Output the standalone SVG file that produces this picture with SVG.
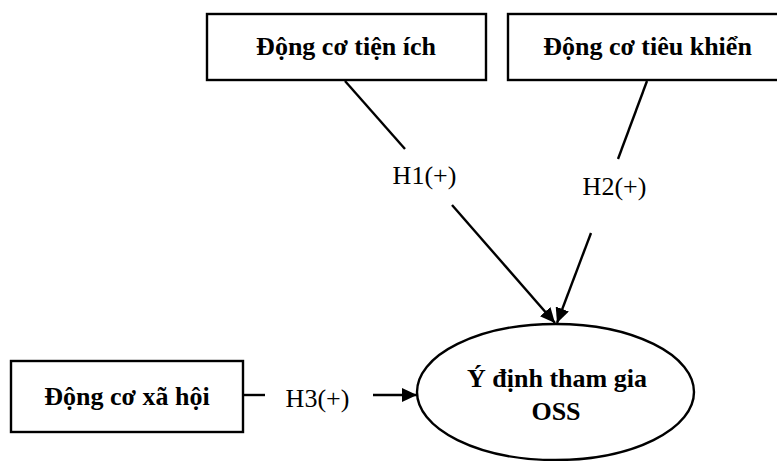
<svg xmlns="http://www.w3.org/2000/svg" width="777" height="461" viewBox="0 0 777 461">
  <defs>
    <marker id="arrow" markerUnits="userSpaceOnUse" markerWidth="16" markerHeight="14" refX="15" refY="7" orient="auto">
      <path d="M0,0 L15,7 L0,14 z" fill="#000"/>
    </marker>
    <style>
      .box { fill: #fff; stroke: #000; stroke-width: 2.4; }
      .title { font-weight: bold; font-size: 26px; fill: #000; text-anchor: middle; }
      .hyp { font-size: 26px; fill: #000; text-anchor: middle; }
      .link { stroke: #000; stroke-width: 2.4; fill: none; }
    </style>
  </defs>
  <rect width="777" height="461" fill="#fff"/>

  <g font-family="'Liberation Serif', 'DejaVu Serif', serif">
    <!-- connectors, each split around its hypothesis label -->
    <g id="connectors">
      <line class="link" x1="345" y1="81" x2="405" y2="149"/>
      <line class="link" x1="452" y1="205" x2="555" y2="323" marker-end="url(#arrow)"/>
      <line class="link" x1="647" y1="81" x2="618" y2="159"/>
      <line class="link" x1="591" y1="233" x2="557" y2="323" marker-end="url(#arrow)"/>
      <line class="link" x1="243" y1="395" x2="265" y2="395"/>
      <line class="link" x1="373" y1="395" x2="417" y2="395" marker-end="url(#arrow)"/>
      <text class="hyp" x="424.5" y="184">H1(+)</text>
      <text class="hyp" x="614.5" y="195">H2(+)</text>
      <text class="hyp" x="317.5" y="407">H3(+)</text>
    </g>

    <g id="utility">
      <rect class="box" x="207" y="14" width="279" height="66"/>
      <text class="title" x="346" y="55">Động cơ tiện ích</text>
    </g>

    <g id="hedonic">
      <rect class="box" x="508" y="14" width="279" height="66"/>
      <text class="title" x="647.5" y="55">Động cơ tiêu khiển</text>
    </g>

    <g id="social">
      <rect class="box" x="11" y="361" width="232" height="71"/>
      <text class="title" x="127" y="405">Động cơ xã hội</text>
    </g>

    <g id="intention">
      <ellipse class="box" cx="555.5" cy="392" rx="138.5" ry="68"/>
      <text class="title" x="557" y="387">Ý định tham gia</text>
      <text class="title" x="556" y="420">OSS</text>
    </g>
  </g>
</svg>
